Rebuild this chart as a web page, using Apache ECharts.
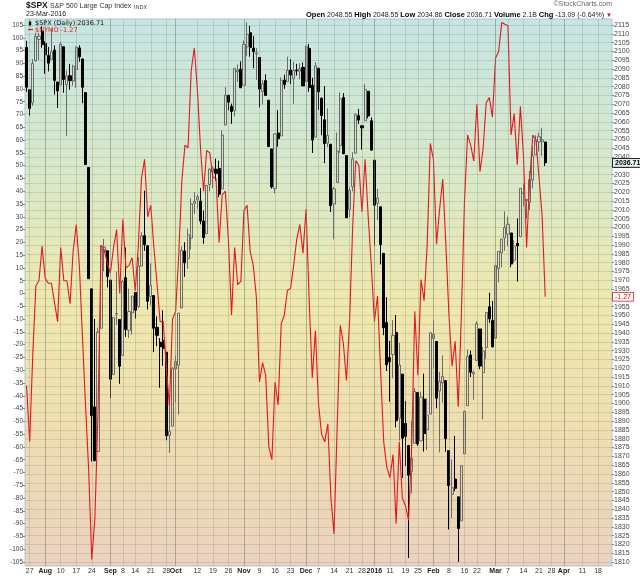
<!DOCTYPE html>
<html><head><meta charset="utf-8">
<script src="https://cdn.jsdelivr.net/npm/echarts@6/dist/echarts.min.js"></script>
<style>html,body{margin:0;padding:0;background:#fff}#c{width:640px;height:576px}</style>
</head><body><div id="c"></div>
<script>
const dates = [
'2015-07-24','2015-07-27','2015-07-28','2015-07-29','2015-07-30','2015-07-31',
'2015-08-03','2015-08-04','2015-08-05','2015-08-06','2015-08-07','2015-08-10','2015-08-11','2015-08-12','2015-08-13','2015-08-14',
'2015-08-17','2015-08-18','2015-08-19','2015-08-20','2015-08-21','2015-08-24','2015-08-25','2015-08-26','2015-08-27','2015-08-28','2015-08-31',
'2015-09-01','2015-09-02','2015-09-03','2015-09-04','2015-09-08','2015-09-09','2015-09-10','2015-09-11','2015-09-14','2015-09-15','2015-09-16','2015-09-17','2015-09-18',
'2015-09-21','2015-09-22','2015-09-23','2015-09-24','2015-09-25','2015-09-28','2015-09-29','2015-09-30',
'2015-10-01','2015-10-02','2015-10-05','2015-10-06','2015-10-07','2015-10-08','2015-10-09','2015-10-12','2015-10-13','2015-10-14','2015-10-15','2015-10-16',
'2015-10-19','2015-10-20','2015-10-21','2015-10-22','2015-10-23','2015-10-26','2015-10-27','2015-10-28','2015-10-29','2015-10-30',
'2015-11-02','2015-11-03','2015-11-04','2015-11-05','2015-11-06','2015-11-09','2015-11-10','2015-11-11','2015-11-12','2015-11-13',
'2015-11-16','2015-11-17','2015-11-18','2015-11-19','2015-11-20','2015-11-23','2015-11-24','2015-11-25','2015-11-27','2015-11-30',
'2015-12-01','2015-12-02','2015-12-03','2015-12-04','2015-12-07','2015-12-08','2015-12-09','2015-12-10','2015-12-11',
'2015-12-14','2015-12-15','2015-12-16','2015-12-17','2015-12-18','2015-12-21','2015-12-22','2015-12-23','2015-12-24','2015-12-28','2015-12-29','2015-12-30','2015-12-31',
'2016-01-04','2016-01-05','2016-01-06','2016-01-07','2016-01-08','2016-01-11','2016-01-12','2016-01-13','2016-01-14','2016-01-15',
'2016-01-19','2016-01-20','2016-01-21','2016-01-22','2016-01-25','2016-01-26','2016-01-27','2016-01-28','2016-01-29',
'2016-02-01','2016-02-02','2016-02-03','2016-02-04','2016-02-05','2016-02-08','2016-02-09','2016-02-10','2016-02-11','2016-02-12',
'2016-02-16','2016-02-17','2016-02-18','2016-02-19','2016-02-22','2016-02-23','2016-02-24','2016-02-25','2016-02-26','2016-02-29',
'2016-03-01','2016-03-02','2016-03-03','2016-03-04','2016-03-07','2016-03-08','2016-03-09','2016-03-10','2016-03-11',
'2016-03-14','2016-03-15','2016-03-16','2016-03-17','2016-03-18','2016-03-21','2016-03-22','2016-03-23','2016-03-24',
'2016-03-28','2016-03-29','2016-03-30','2016-03-31','2016-04-01','2016-04-04','2016-04-05','2016-04-06','2016-04-07','2016-04-08',
'2016-04-11','2016-04-12','2016-04-13','2016-04-14','2016-04-15','2016-04-18','2016-04-19','2016-04-20','2016-04-21','2016-04-22'];

const opens = [2102.24,2078.19,2070.75,2094.70,2106.78,2111.60,2104.49,2097.68,2095.27,2100.75,2082.61,2080.98,2102.66,2081.10,2086.19,2083.15,2089.70,2101.99,2095.69,2076.61,2034.08,1965.15,1898.08,1872.75,1942.77,1986.06,1986.73,1970.09,1916.52,1950.79,1947.76,1927.30,1971.45,1941.59,1951.45,1963.06,1955.10,1978.02,1995.33,1989.66,1960.84,1961.39,1943.24,1934.81,1935.93,1929.18,1881.90,1887.14,1919.65,1921.77,1954.33,1986.63,1982.34,1994.01,2013.73,2015.65,2015.00,2003.66,1996.47,2024.37,2031.73,2033.13,2033.47,2021.88,2058.19,2075.08,2068.75,2066.48,2088.35,2090.00,2080.76,2102.63,2110.60,2101.92,2098.60,2096.56,2077.19,2083.41,2072.29,2044.64,2022.08,2053.67,2051.99,2083.70,2082.82,2089.41,2084.42,2089.30,2088.82,2090.95,2082.93,2101.71,2080.71,2051.24,2090.42,2073.39,2061.17,2047.93,2047.27,2013.37,2025.55,2046.50,2073.76,2040.81,2010.27,2023.15,2042.20,2063.52,2057.77,2060.54,2077.34,2060.59,2038.20,2013.78,2011.71,1985.32,1945.97,1926.12,1927.83,1940.34,1891.68,1916.68,1888.66,1876.18,1861.46,1877.40,1906.28,1878.79,1902.52,1885.22,1894.00,1936.94,1935.26,1907.07,1911.67,1913.07,1873.25,1848.46,1857.10,1847.00,1833.40,1871.44,1898.80,1927.57,1916.74,1924.44,1942.38,1917.56,1931.87,1954.95,1947.13,1937.09,1976.60,1985.60,1994.01,1996.11,1996.88,1981.44,1990.97,1994.71,2019.27,2015.27,2014.24,2026.90,2041.16,2048.64,2048.64,2048.55];
const highs = [2106.01,2078.19,2095.60,2110.60,2110.48,2114.24,2105.70,2102.51,2112.66,2103.32,2082.61,2105.35,2102.66,2089.06,2092.93,2092.45,2102.87,2103.47,2096.17,2076.61,2034.08,1965.15,1948.04,1943.09,1989.60,1993.48,1986.73,1970.09,1948.91,1975.01,1947.76,1970.42,1988.63,1965.29,1961.05,1963.06,1983.19,1997.26,2020.86,1989.66,1979.64,1961.39,1949.52,1937.17,1952.89,1929.18,1899.48,1920.53,1927.21,1951.36,1989.17,1991.62,1999.31,2016.50,2020.13,2018.66,2022.34,2009.56,2024.15,2033.54,2034.45,2039.12,2037.97,2055.20,2079.74,2075.14,2070.37,2090.35,2092.52,2094.32,2106.20,2116.48,2114.59,2108.78,2101.91,2096.56,2083.67,2086.94,2072.29,2044.64,2053.22,2066.69,2085.31,2086.74,2097.06,2095.61,2094.12,2093.00,2093.29,2093.81,2103.37,2104.27,2085.00,2093.84,2090.42,2073.85,2080.33,2067.65,2047.27,2022.92,2053.87,2076.72,2076.37,2040.81,2022.90,2042.74,2064.73,2067.36,2057.77,2081.56,2077.34,2062.54,2038.20,2021.94,2011.71,1985.32,1960.40,1935.65,1947.38,1950.33,1934.47,1916.68,1901.44,1876.18,1889.85,1908.85,1906.28,1906.73,1916.99,1902.96,1940.24,1947.20,1935.26,1918.01,1927.35,1913.07,1873.25,1868.25,1881.60,1847.00,1864.78,1895.77,1930.68,1930.00,1918.78,1946.70,1942.38,1932.08,1951.83,1962.96,1958.27,1978.35,1986.51,1993.69,2009.13,2006.12,1996.88,1992.69,2005.08,2022.37,2024.57,2015.94,2032.02,2046.24,2052.36,2053.91,2056.60,2048.55];
const lows = [2077.09,2063.52,2069.09,2094.08,2094.97,2102.07,2087.31,2088.60,2095.27,2075.53,2067.91,2080.98,2076.49,2052.09,2078.26,2080.61,2079.30,2094.14,2070.53,2035.73,1970.89,1867.01,1867.08,1872.75,1942.77,1975.19,1965.98,1903.07,1916.52,1944.72,1911.21,1927.30,1937.88,1937.19,1939.19,1948.27,1954.30,1977.93,1986.73,1953.45,1955.80,1929.22,1932.57,1908.92,1921.50,1879.21,1871.91,1887.14,1900.70,1893.70,1954.33,1971.99,1976.44,1987.53,2007.61,2010.55,2001.78,1990.73,1996.47,2020.46,2022.31,2026.61,2017.22,2021.88,2058.19,2066.53,2058.84,2063.11,2082.63,2079.34,2080.76,2097.51,2096.98,2090.41,2083.74,2068.24,2069.91,2074.85,2045.66,2022.02,2019.39,2045.90,2051.99,2078.76,2082.82,2081.39,2070.29,2086.30,2084.13,2080.41,2082.93,2077.11,2042.35,2051.24,2066.78,2052.32,2036.53,2045.67,2008.80,1993.26,2025.55,2042.43,2041.66,2005.33,2005.93,2020.49,2042.20,2058.73,2044.20,2060.54,2061.97,2043.62,1989.68,2004.17,1979.05,1938.83,1918.46,1901.10,1914.35,1886.41,1878.93,1857.83,1864.60,1812.29,1848.98,1877.40,1875.97,1878.79,1872.70,1873.65,1894.00,1920.30,1897.29,1872.23,1900.52,1872.65,1828.46,1834.94,1850.32,1810.10,1833.40,1871.44,1898.80,1915.09,1902.17,1924.44,1919.44,1891.00,1925.41,1945.78,1931.81,1937.09,1968.80,1977.37,1986.77,1989.38,1977.43,1979.84,1969.25,1994.71,2012.05,2005.23,2010.04,2022.16,2041.16,2043.14,2040.57,2034.86];
const closes = [2079.65,2067.64,2093.25,2108.57,2108.63,2103.84,2098.04,2093.32,2099.84,2083.56,2077.57,2104.18,2084.07,2086.05,2083.39,2091.54,2102.44,2096.92,2079.61,2035.73,1970.89,1893.21,1867.61,1940.51,1987.66,1988.87,1972.18,1913.85,1948.86,1951.13,1921.22,1969.41,1942.04,1952.29,1961.05,1953.03,1978.09,1995.31,1990.20,1958.03,1966.97,1942.74,1938.76,1932.24,1931.34,1881.77,1884.09,1920.03,1923.82,1951.36,1987.05,1979.92,1995.83,2013.43,2014.89,2017.46,2003.69,1994.24,2023.86,2033.11,2033.66,2030.77,2018.94,2052.51,2075.15,2071.18,2065.89,2090.35,2089.41,2079.36,2104.05,2109.79,2102.31,2099.93,2099.20,2078.58,2081.72,2075.00,2045.97,2023.04,2053.19,2050.44,2083.58,2081.24,2089.17,2086.59,2089.14,2088.87,2090.11,2080.41,2102.63,2079.51,2049.62,2091.69,2077.07,2063.59,2047.62,2052.23,2012.37,2021.94,2043.41,2073.07,2041.89,2005.55,2021.15,2038.97,2064.29,2060.99,2056.50,2078.36,2063.36,2043.94,2012.66,2016.71,1990.26,1943.09,1922.03,1923.67,1938.68,1890.28,1921.84,1880.33,1881.33,1859.33,1868.99,1906.90,1877.08,1903.63,1882.95,1893.36,1940.24,1939.38,1903.03,1912.53,1915.45,1880.05,1853.44,1852.21,1851.86,1829.08,1864.78,1895.58,1926.82,1917.83,1917.78,1945.50,1921.27,1929.80,1951.70,1948.05,1932.23,1978.35,1986.45,1993.40,1999.99,2001.76,1979.26,1989.26,1989.57,2022.19,2019.64,2015.93,2027.22,2040.59,2049.58,2051.60,2049.80,2036.71];
const nymo = [-36,-58,-24,3,5,18.6,6,4,4,-3.5,-11,18,5,5,-4,16.5,27,11,-17,-44,-69,-104,-88,-47,19,17,12,8,18,25,0,29,10,11,14,1,19,45,52.5,30,34.5,18,4,-11,-11,-29,-44,-10,-7,15,44,58,57,87,96,80,57,40,56,55,45.5,45,20,38.6,40,20.6,-8.4,18,3.4,4.8,32.4,34.5,16.5,11,-1.5,-34.6,-27,-32,-60,-65,-34.6,-43.6,-11.8,-8.4,1.3,2,11,21.3,27,15.8,33,-2.8,-33,-14.6,-43,-55,-58,-51,-80,-94,-52.6,-12.5,-19.4,-34,-11,26,52,50,32,52.5,30,11,-11,-1,-30.5,-58,-68,-72,-63,-90,-58,-80,-83,-88.6,-60,-7,-32,5.4,-2.8,19.3,58.7,52.5,19.3,33,44.8,19.3,-8.4,-28.4,-18.7,-44.3,-8.4,36,62,58,51.8,74,47.6,56.6,74.6,76.6,69,92,94.6,106,105.3,104.7,62,70.4,50.4,73.2,53.8,18,44.2,62,60,45.5,30.3,-1.27];

const tickDates = ['2015-07-27','2015-08-03','2015-08-10','2015-08-17','2015-08-24','2015-09-01','2015-09-08','2015-09-14','2015-09-21','2015-09-28','2015-10-01','2015-10-12','2015-10-19','2015-10-26','2015-11-02','2015-11-09','2015-11-16','2015-11-23','2015-12-01','2015-12-07','2015-12-14','2015-12-21','2015-12-28','2016-01-04','2016-01-11','2016-01-19','2016-01-25','2016-02-01','2016-02-08','2016-02-16','2016-02-22','2016-03-01','2016-03-07','2016-03-14','2016-03-21','2016-03-28','2016-04-01','2016-04-11','2016-04-18'];
const tickLabels = ['27','Aug','10','17','24','Sep','8','14','21','28','Oct','12','19','26','Nov','9','16','23','Dec','7','14','21','28','2016','11','19','25','Feb','8','16','22','Mar','7','14','21','28','Apr','11','18'];
const monthLabels = ['Aug','Sep','Oct','Nov','Dec','2016','Feb','Mar','Apr'];

const tickMap = {};
tickDates.forEach((d, i) => { tickMap[d] = tickLabels[i]; });
const isMonth = (t) => monthLabels.indexOf(t) >= 0;

const last = closes.length - 1;
const chg = closes[last] - closes[last - 1];
const pct = chg / closes[last - 1] * 100;

const FONT = '"Liberation Sans", Arial, sans-serif';
const chart = echarts.init(document.getElementById('c'), null, {renderer: 'canvas'});
const NOLINE = {color: 'rgba(0,0,0,0)', width: 0};

const L = 25, R = 28;
const option = {
  animation: false,
  textStyle: {fontFamily: FONT},
  grid: [
    {left: L, right: R, top: 19, bottom: 10, show: true, borderColor: '#a8c9d4', borderWidth: 1,
     backgroundColor: new echarts.graphic.LinearGradient(0, 0, 0, 1, [
       {offset: 0, color: '#c5e5e3'}, {offset: 0.28, color: '#d8e8c9'},
       {offset: 0.52, color: '#eee8ae'}, {offset: 0.74, color: '#efdeb0'},
       {offset: 1, color: '#ebd2bf'}])},
    {left: L, right: R, top: 25, bottom: 14}
  ],
  xAxis: [
    {type: 'category', gridIndex: 0, data: dates, boundaryGap: true,
     axisLine: {show: false}, axisTick: {show: false}, splitLine: {show: false},
     axisLabel: {
       interval: (idx, val) => tickMap[val] !== undefined,
       formatter: (val) => { const t = tickMap[val]; if (t === undefined) return ''; return isMonth(t) ? '{m|' + t + '}' : '{d|' + t + '}'; },
       margin: 2, hideOverlap: false,
       rich: {m: {fontSize: 7, fontWeight: 'bold', color: '#222', fontFamily: FONT}, d: {fontSize: 7, color: '#333', fontFamily: FONT}}
     }},
    {type: 'category', gridIndex: 1, data: dates, boundaryGap: true, show: false}
  ],
  yAxis: [
    {type: 'value', gridIndex: 0, min: 0, max: 1, show: false},
    {type: 'value', gridIndex: 1, min: -105, max: 105, interval: 5, position: 'left',
     axisLine: {show: false}, axisTick: {show: true, length: 2, lineStyle: {color: '#888'}},
     splitLine: {show: false},
     axisLabel: {fontSize: 6.5, color: '#444', margin: 2, fontFamily: FONT, formatter: (v) => String(v)}},
    {type: 'value', gridIndex: 1, min: 1810, max: 2115, interval: 5, position: 'right',
     axisLine: {show: false}, axisTick: {show: true, length: 2, lineStyle: {color: '#888'}},
     splitLine: {show: true, lineStyle: {color: 'rgba(110,125,105,0.22)', width: 1}},
     axisLabel: {fontSize: 7, color: '#444', margin: 2, fontFamily: FONT, formatter: (v) => String(v)}}
  ],
  series: [
    {type: 'line', xAxisIndex: 0, yAxisIndex: 0, data: [], symbol: 'none', silent: true,
     markLine: {silent: true, symbol: ['none', 'none'], animation: false, label: {show: false},
       data: tickDates.map((d, i) => ({xAxis: d, lineStyle: isMonth(tickLabels[i]) ?
         {color: 'rgba(120,128,105,0.55)', width: 1, type: 'solid'} :
         {color: 'rgba(120,128,105,0.25)', width: 1, type: 'solid'}}))}},
    {type: 'candlestick', name: '$SPX', xAxisIndex: 1, yAxisIndex: 2, clip: false, barWidth: 2.6,
     data: closes.map((c, i) => [opens[i], c, lows[i], highs[i]]),
     itemStyle: {color: 'rgba(255,255,255,0)', color0: '#000', borderColor: '#6a6a6a', borderColor0: '#000', borderWidth: 1},
     markLine: {silent: true, symbol: ['none', 'none'], animation: false, lineStyle: NOLINE,
       data: [{yAxis: closes[last]}],
       label: {show: true, position: 'end', distance: 1, formatter: closes[last].toFixed(2),
         fontSize: 7, fontWeight: 'bold', color: '#000', backgroundColor: '#e6f2f1',
         borderColor: '#000', borderWidth: 0.8, padding: [1, 1, 0, 2], fontFamily: FONT}}},
    {type: 'line', name: '$NYMO', xAxisIndex: 1, yAxisIndex: 1, data: nymo, clip: false,
     symbol: 'none', lineStyle: {color: '#e8151b', width: 1.1}, z: 3,
     markLine: {silent: true, symbol: ['none', 'none'], animation: false, lineStyle: NOLINE,
       data: [{yAxis: nymo[last]}],
       label: {show: true, position: 'end', distance: 1, formatter: nymo[last].toFixed(2),
         fontSize: 7, color: '#d0141a', backgroundColor: '#fff', borderColor: '#d0141a',
         borderWidth: 0.8, padding: [1, 2, 0, 2], fontFamily: FONT}}}
  ],
  graphic: [
    {type: 'text', left: 26, top: 1, style: {text: '$SPX', font: 'bold 8.5px ' + FONT, fill: '#111'}},
    {type: 'text', left: 50, top: 3, style: {text: 'S&P 500 Large Cap Index', font: '7px ' + FONT, fill: '#333'}},
    {type: 'text', left: 134, top: 4, style: {text: 'INDX', font: '5.5px ' + FONT, fill: '#444'}},
    {type: 'text', left: 26, top: 11, style: {text: '23-Mar-2016', font: '7px ' + FONT, fill: '#222'}},
    {type: 'text', right: 28, top: 1, style: {text: '\u00A9StockCharts.com', font: '7px ' + FONT, fill: '#666'}},
    {type: 'text', right: 36, top: 11, style: {
      text: '{b|Open} 2048.55 {b|High} 2048.55 {b|Low} 2034.86 {b|Close} 2036.71 {b|Volume} 2.1B {b|Chg} ' + chg.toFixed(2) + ' (' + pct.toFixed(2) + '%)',
      font: '7px ' + FONT, fill: '#222', rich: {b: {fontWeight: 'bold', fontSize: 7.5, fill: '#000', fontFamily: FONT}}}},
    {type: 'text', right: 28, top: 12, style: {text: '\u25BC', font: '6px ' + FONT, fill: '#d0141a'}},
    {type: 'line', shape: {x1: 30, y1: 20.5, x2: 30, y2: 26.5}, style: {stroke: '#000', lineWidth: 0.8}, z: 10},
    {type: 'rect', shape: {x: 28.8, y: 21.8, width: 2.4, height: 3.2}, style: {fill: '#000'}, z: 10},
    {type: 'text', left: 35, top: 20, z: 10, style: {text: '$SPX (Daily) ' + closes[last].toFixed(2), font: '6.5px "DejaVu Sans", sans-serif', fill: '#111'}},
    {type: 'line', shape: {x1: 28, y1: 29.5, x2: 33, y2: 29.5}, style: {stroke: '#e8151b', lineWidth: 1.2}, z: 10},
    {type: 'text', left: 35, top: 26.5, z: 10, style: {text: '$NYMO ' + nymo[last].toFixed(2), font: '6.5px "DejaVu Sans", sans-serif', fill: '#e8151b'}}
  ]
};
chart.setOption(option);
</script></body></html>
